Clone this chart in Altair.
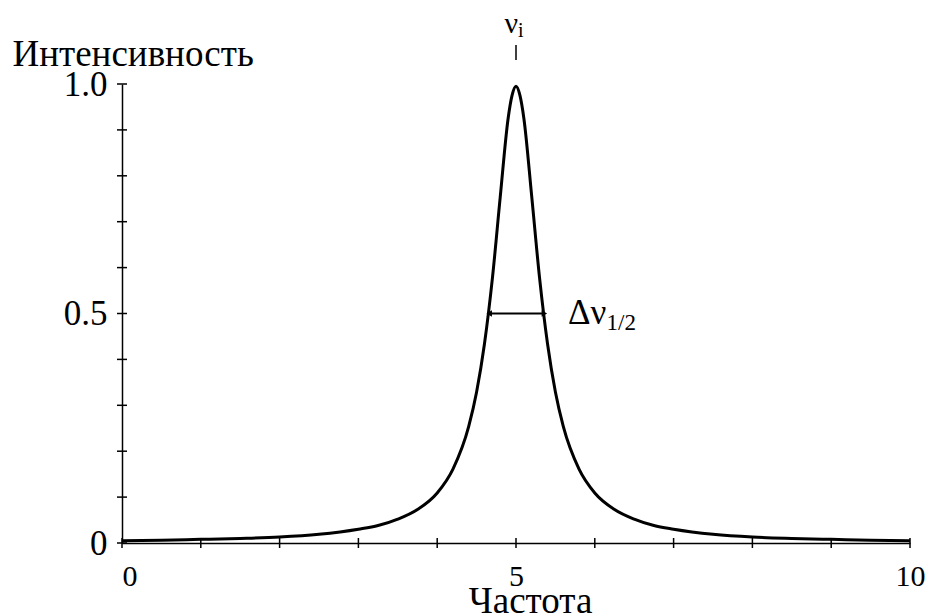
import altair as alt
import pandas as pd

# Curve
freq = [0, 0.5, 1, 1.5, 2, 2.5, 3, 3.25, 3.5, 3.75, 4, 4.2, 4.4, 4.5, 4.6, 4.7, 4.8, 4.9, 4.95, 5,
        5.05, 5.1, 5.2, 5.3, 5.4, 5.5, 5.6, 5.8, 6, 6.25, 6.5, 6.75, 7, 7.5, 8, 8.5, 9, 9.5, 10]
intensity = [0.005, 0.006, 0.008, 0.010, 0.013, 0.019, 0.030, 0.038, 0.052, 0.073, 0.109, 0.161, 0.254,
             0.329, 0.434, 0.576, 0.754, 0.925, 0.975, 0.995,
             0.975, 0.925, 0.754, 0.576, 0.434, 0.329, 0.254, 0.161, 0.109, 0.073, 0.052, 0.038,
             0.030, 0.019, 0.013, 0.010, 0.008, 0.006, 0.005]

x_ticks = list(range(0, 11))
y_ticks = [0, 0.1, 0.2, 0.3, 0.4, 0.5, 0.6, 0.7, 0.8, 0.9, 1.0]
x_labels = [0, 5, 10]
y_labels = [0, 0.5, 1.0]

peak_freq = 5
half_level = 0.5
half_left = 4.66
half_right = 5.36

FONT = "Liberation Serif, Times New Roman, serif"
W, H = 788, 459

df = pd.DataFrame({"f": freq, "I": intensity})
xs = alt.Scale(domain=[0, 10], nice=False)
ys = alt.Scale(domain=[0, 1], nice=False)

curve = alt.Chart(df).mark_line(color="black", strokeWidth=3, interpolate="monotone").encode(
    x=alt.X("f:Q", scale=xs,
            axis=alt.Axis(values=x_labels, ticks=False, grid=False, domainColor="black", domainWidth=1.5,
                          format="d",
                          labelFont=FONT, labelFontSize=30, labelColor="black", labelPadding=18,
                          labelAlign={"condition": {"test": "datum.value == 0", "value": "left"}, "value": "center"},
                          labelFlush=False,
                          title="Частота", titleFont=FONT, titleFontSize=37, titleFontWeight="normal",
                          titleColor="black", titleX=408, titleY=69, titleBaseline="alphabetic",
                          titleAlign="center")),
    y=alt.Y("I:Q", scale=ys,
            axis=alt.Axis(values=y_labels, ticks=False, grid=False, domainColor="black", domainWidth=1.5,
                          labelExpr="datum.value == 0 ? '0' : format(datum.value, '.1f')",
                          labelFont=FONT, labelFontSize=35, labelColor="black", labelPadding=15,
                          title="Интенсивность", titleFont=FONT, titleFontSize=37, titleFontWeight="normal",
                          titleColor="black", titleAngle=0, titleAlign="left", titleBaseline="alphabetic",
                          titleX=-110, titleY=-19)),
)

ytick_layer = alt.Chart(pd.DataFrame({"y": y_ticks})).mark_rule(color="black", strokeWidth=1.5).encode(
    y=alt.Y("y:Q", scale=ys), x=alt.value(-5), x2=alt.value(5))
xtick_layer = alt.Chart(pd.DataFrame({"x": x_ticks})).mark_rule(color="black", strokeWidth=1.5).encode(
    x=alt.X("x:Q", scale=xs), y=alt.value(H - 5), y2=alt.value(H + 5))

top_df = pd.DataFrame({"x": [peak_freq]})
top_tick = alt.Chart(top_df).mark_rule(color="black", strokeWidth=1.5).encode(
    x=alt.X("x:Q", scale=xs), y=alt.value(-39), y2=alt.value(-24))
nu_text = alt.Chart(top_df).mark_text(text="ν", font=FONT, fontSize=30, align="right",
                                      baseline="alphabetic", dx=2, color="black").encode(
    x=alt.X("x:Q", scale=xs), y=alt.value(-51))
i_text = alt.Chart(top_df).mark_text(text="i", font=FONT, fontSize=20, align="left",
                                     baseline="alphabetic", dx=2, color="black").encode(
    x=alt.X("x:Q", scale=xs), y=alt.value(-47))

arr_df = pd.DataFrame({"x1": [half_left], "x2": [half_right], "y": [half_level]})
arrow_line = alt.Chart(arr_df).mark_rule(color="black", strokeWidth=2).encode(
    x=alt.X("x1:Q", scale=xs), x2="x2:Q", y=alt.Y("y:Q", scale=ys))
head_l = alt.Chart(arr_df).mark_point(shape="triangle-left", filled=True, color="black", size=40, opacity=1).encode(
    x=alt.X("x1:Q", scale=xs), y=alt.Y("y:Q", scale=ys))
head_r = alt.Chart(arr_df).mark_point(shape="triangle-right", filled=True, color="black", size=40, opacity=1).encode(
    x=alt.X("x2:Q", scale=xs), y=alt.Y("y:Q", scale=ys))

lab_df = pd.DataFrame({"x": [5.66], "xs": [6.15], "y": [half_level]})
dnu = alt.Chart(lab_df).mark_text(text="Δν", font=FONT, fontSize=35, align="left", baseline="alphabetic",
                                  dy=10, color="black").encode(
    x=alt.X("x:Q", scale=xs), y=alt.Y("y:Q", scale=ys))
sub = alt.Chart(lab_df).mark_text(text="1/2", font=FONT, fontSize=23, align="left", baseline="alphabetic",
                                  dy=16, color="black").encode(
    x=alt.X("xs:Q", scale=xs), y=alt.Y("y:Q", scale=ys))

chart = alt.layer(curve, ytick_layer, xtick_layer, top_tick, nu_text, i_text,
                  arrow_line, head_l, head_r, dnu, sub).properties(
    width=W, height=H,
    autosize=alt.AutoSizeParams(type="none"),
    padding={"left": 122, "top": 84, "right": 16, "bottom": 73},
    background="white",
).configure_view(stroke=None)

chart.save("out.html", embed_options={"renderer": "svg", "actions": False})
